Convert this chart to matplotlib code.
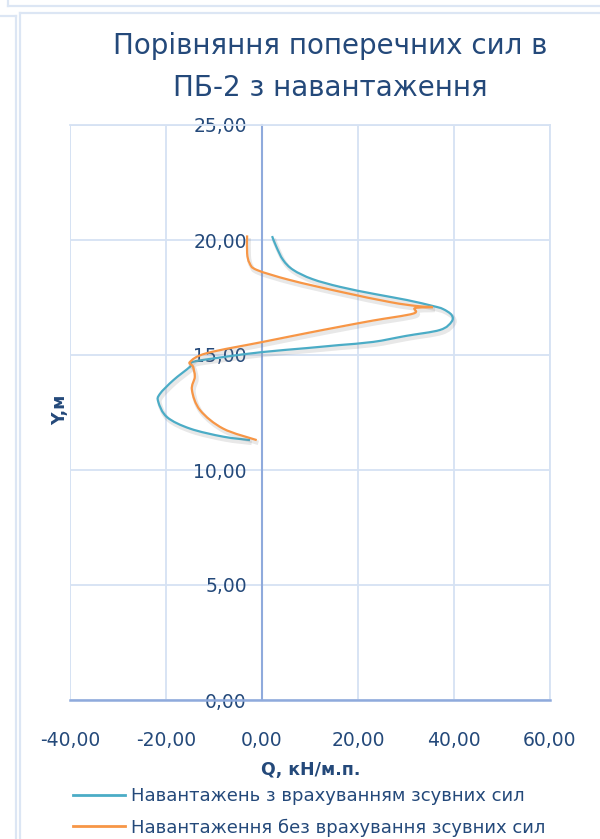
import matplotlib
matplotlib.use("Agg")
import matplotlib.pyplot as plt
import matplotlib.patheffects as pe
from matplotlib.ticker import FuncFormatter
from matplotlib.lines import Line2D
from matplotlib.path import Path
from matplotlib.patches import PathPatch

# Data
q_with = [2.1, 3.0, 4.4, 6.5, 10.5, 16.3, 23.5, 30.2, 35.6, 37.7, 39.5, 39.5, 37.1, 30.0, 23.2, 16.0,
          9.3, 0.2, -8.1, -14.4, -15.0, -18.5, -21.3, -21.6, -19.8, -15.0, -8.1, -2.5]
y_with = [20.17, 19.7, 19.13, 18.7, 18.3, 17.96, 17.65, 17.39, 17.13, 17.0, 16.74, 16.45, 16.09, 15.83, 15.57, 15.43,
          15.3, 15.13, 14.91, 14.7, 14.49, 13.9, 13.3, 12.96, 12.3, 11.8, 11.45, 11.3]

q_without = [-3.1, -3.1, -2.6, -1.1, 5.8, 16.3, 26.7, 32.2, 35.6, 31.9, 31.5, 23.2, 16.0, 9.3, 0.2, -11.5,
             -15.0, -14.4, -14.0, -14.6, -12.9, -8.1, -1.1]
y_without = [20.2, 19.43, 19.0, 18.7, 18.26, 17.75, 17.3, 17.13, 17.08, 17.04, 16.8, 16.5, 16.22, 15.95, 15.57, 15.08,
             14.7, 14.5, 14.05, 13.48, 12.6, 11.8, 11.3]

series_labels = ["Навантажень з врахуванням зсувних сил",
                 "Навантаження без врахування зсувних сил"]
title = "Порівняння поперечних сил в\nПБ-2 з навантаження"
x_label = "Q, кН/м.п."
y_label = "Y,м"
x_ticks = [-40, -20, 0, 20, 40, 60]
y_ticks = [0, 5, 10, 15, 20, 25]

TEXT = "#24497A"
GRID = "#D6E2F3"
AXIS = "#8FAADC"
C_WITH = "#4BACC6"
C_WITHOUT = "#F79646"

W, H = 600, 839
fig = plt.figure(figsize=(W / 100, H / 100), dpi=100)
fig.patch.set_facecolor("white")


def fline(x0, y0, x1, y1, lw=1.6):
    fig.add_artist(Line2D([x0 / W, x1 / W], [1 - y0 / H, 1 - y1 / H], color="#DCE6F4", lw=lw,
                          transform=fig.transFigure))


fline(8, 6, 600, 6)
fline(8, 0, 8, 6)
fline(20, 13, 600, 13)
fline(20, 13, 20, 839)
fline(0, 16, 16, 16)
fline(16, 16, 16, 839)

ax = fig.add_axes([70 / W, 1 - 700 / H, 480 / W, 575 / H])
ax.set_xlim(-40, 60)
ax.set_ylim(0, 25)
ax.set_xticks(x_ticks)
ax.set_yticks(y_ticks)
ax.grid(True, color=GRID, lw=1.3)
ax.set_axisbelow(True)

for s in ["top", "right"]:
    ax.spines[s].set_color(GRID)
    ax.spines[s].set_linewidth(1.3)
ax.spines["left"].set_position(("data", 0))
ax.spines["left"].set_color(AXIS)
ax.spines["left"].set_linewidth(1.5)
ax.spines["bottom"].set_color(AXIS)
ax.spines["bottom"].set_linewidth(1.8)
ax.axvline(-40, color=GRID, lw=1.3, zorder=0)

fmt = FuncFormatter(lambda v, p: f"{v:.2f}".replace(".", ","))
ax.xaxis.set_major_formatter(fmt)
ax.yaxis.set_major_formatter(fmt)
ax.tick_params(axis="both", length=0, labelsize=13.5, labelcolor=TEXT)
ax.tick_params(axis="x", pad=22)
ax.tick_params(axis="y", pad=11)


def smooth_path(xs, ys):
    """Excel-like smoothed line: Catmull-Rom segments drawn as cubic Bezier curves."""
    pts = list(zip(xs, ys))
    verts = [pts[0]]
    codes = [Path.MOVETO]
    n = len(pts)
    for i in range(n - 1):
        p0 = pts[i - 1] if i > 0 else pts[i]
        p1 = pts[i]
        p2 = pts[i + 1]
        p3 = pts[i + 2] if i + 2 < n else pts[i + 1]
        c1 = (p1[0] + (p2[0] - p0[0]) / 6, p1[1] + (p2[1] - p0[1]) / 6)
        c2 = (p2[0] - (p3[0] - p1[0]) / 6, p2[1] - (p3[1] - p1[1]) / 6)
        verts += [c1, c2, p2]
        codes += [Path.CURVE4] * 3
    return Path(verts, codes)


shadow = [pe.SimpleLineShadow(offset=(1.2, -2.0), shadow_color="#808080", alpha=0.18, linewidth=3.2),
          pe.Normal()]
for xs, ys, c in [(q_with, y_with, C_WITH), (q_without, y_without, C_WITHOUT)]:
    patch = PathPatch(smooth_path(xs, ys), facecolor="none", edgecolor=c, lw=1.6,
                      path_effects=shadow, zorder=3, transform=ax.transData)
    ax.add_patch(patch)

fig.text(330 / W, 1 - 67 / H, title, ha="center", va="center", fontsize=20, color=TEXT,
         linespacing=1.6)
fig.text(311 / W, 1 - 770 / H, x_label, ha="center", va="center", fontsize=12.5, color=TEXT,
         fontweight="bold")
fig.text(60 / W, 1 - 410 / H, y_label, ha="center", va="center", fontsize=12.5, color=TEXT,
         fontweight="bold", rotation=90)

handles = [Line2D([], [], color=C_WITH, lw=2), Line2D([], [], color=C_WITHOUT, lw=2)]
fig.legend(handles, series_labels, loc="upper left", bbox_to_anchor=(73 / W, 1 - 787 / H),
           frameon=False, fontsize=13, labelcolor=TEXT, handlelength=2.9, handletextpad=0.3,
           labelspacing=0.75, borderpad=0, borderaxespad=0)

fig.savefig("out.png", dpi=100)
